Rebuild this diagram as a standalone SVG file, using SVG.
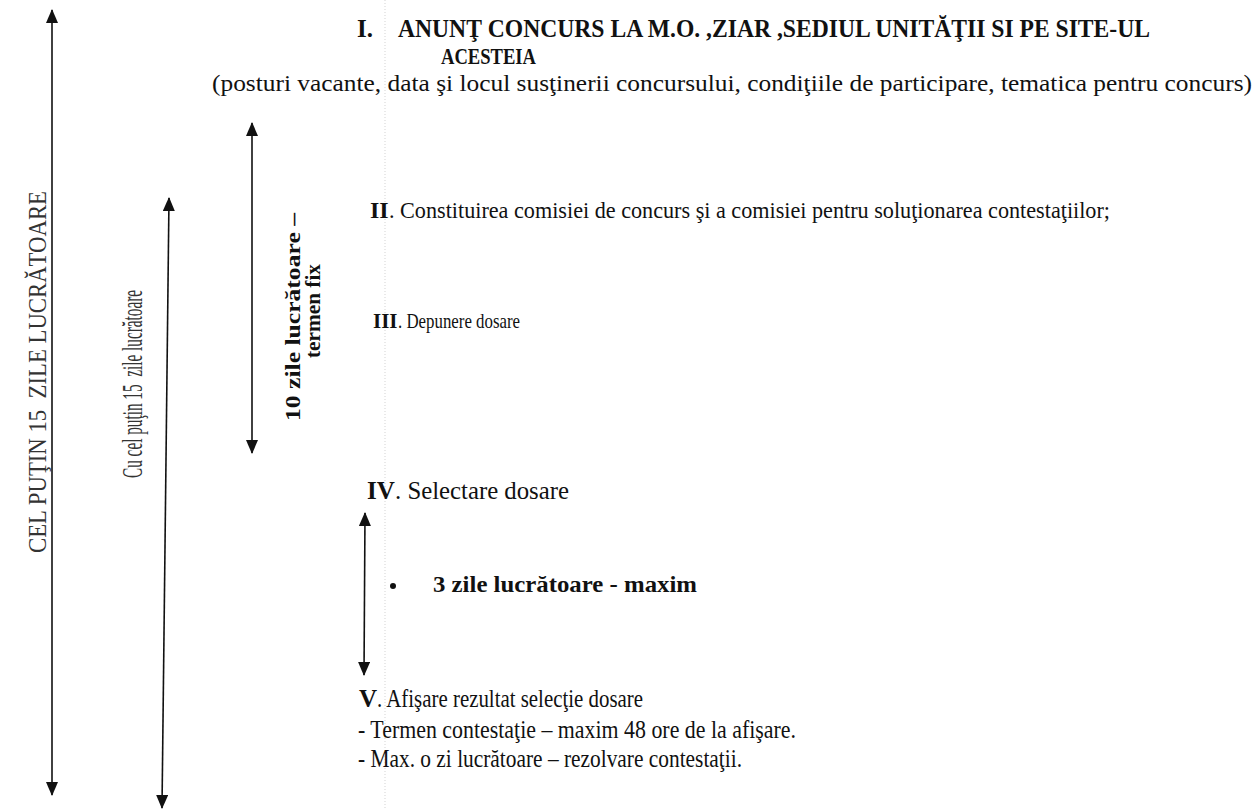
<svg xmlns="http://www.w3.org/2000/svg" width="1256" height="810" viewBox="0 0 1256 810">
<style>
.t{font-family:"Liberation Serif","Times New Roman",serif;fill:#111}
.b{font-weight:bold}
.side{font-family:"Liberation Serif","Times New Roman",serif;fill:#333}
.ln{stroke:#111;stroke-width:1.6;fill:none}
</style>
<defs>
<marker id="ah" markerUnits="userSpaceOnUse" markerWidth="14" markerHeight="12" refX="13" refY="6" orient="auto-start-reverse" viewBox="0 0 14 12">
<path d="M0,0 L14,6 L0,12 Z" fill="#111"/>
</marker>
</defs>
<rect width="1256" height="810" fill="#fff"/>
<line x1="385" y1="0" x2="385" y2="810" stroke="#c8c8c8" stroke-width="0.8" stroke-dasharray="1 2"/>
<g id="connectors">
<line class="ln" x1="52" y1="10" x2="52" y2="795" marker-start="url(#ah)" marker-end="url(#ah)"/>
<line class="ln" x1="169" y1="198" x2="162" y2="808" marker-start="url(#ah)" marker-end="url(#ah)"/>
<line class="ln" x1="252" y1="123" x2="252" y2="453" marker-start="url(#ah)" marker-end="url(#ah)"/>
<line class="ln" x1="365" y1="513" x2="364" y2="675" marker-start="url(#ah)" marker-end="url(#ah)"/>
</g>
<g id="label-cel-putin">
<text class="side" font-size="25" text-anchor="middle" transform="translate(46,372) rotate(-90)" textLength="362" lengthAdjust="spacingAndGlyphs">CEL PUŢIN 15&#160; ZILE LUCRĂTOARE</text>
</g>
<g id="label-cu-cel-putin">
<text class="side" font-size="29" text-anchor="middle" transform="translate(142,384) rotate(-90)" textLength="188" lengthAdjust="spacingAndGlyphs">Cu cel puţin 15&#160; zile lucrătoare</text>
</g>
<g id="label-10-zile">
<text class="t b" font-size="21" text-anchor="middle" transform="translate(300,317) rotate(-90)" textLength="208" lengthAdjust="spacingAndGlyphs">10 zile lucrătoare –</text>
<text class="t b" font-size="21" text-anchor="middle" transform="translate(320,311) rotate(-90)" textLength="94" lengthAdjust="spacingAndGlyphs">termen fix</text>
</g>
<g id="step-1">
<text class="t b" font-size="25" x="357" y="37">I.</text>
<text class="t b" font-size="25" x="398" y="37" textLength="752" lengthAdjust="spacingAndGlyphs">ANUNŢ CONCURS LA M.O. ,ZIAR ,SEDIUL UNITĂŢII SI PE SITE-UL</text>
<text class="t b" font-size="24" x="441" y="64" textLength="95" lengthAdjust="spacingAndGlyphs">ACESTEIA</text>
<text class="t" font-size="24" x="212" y="91" textLength="1040" lengthAdjust="spacingAndGlyphs">(posturi vacante, data şi locul susţinerii concursului, condiţiile de participare, tematica pentru concurs)</text>
</g>
<g id="step-2">
<text class="t b" font-size="24" x="370" y="218">II</text>
<text class="t" font-size="24" x="389" y="218" textLength="721" lengthAdjust="spacingAndGlyphs">. Constituirea comisiei de concurs şi a comisiei pentru soluţionarea contestaţiilor;</text>
</g>
<g id="step-3">
<text class="t b" font-size="21" x="373" y="328">III</text>
<text class="t" font-size="21" x="398" y="328" textLength="122" lengthAdjust="spacingAndGlyphs">. Depunere dosare</text>
</g>
<g id="step-4">
<text class="t b" font-size="25" x="367" y="499">IV</text>
<text class="t" font-size="25" x="395" y="499" textLength="174" lengthAdjust="spacingAndGlyphs">. Selectare dosare</text>
</g>
<g id="note-3-zile">
<circle cx="393" cy="586" r="3" fill="#111"/>
<text class="t b" font-size="24" x="433" y="592" textLength="264" lengthAdjust="spacingAndGlyphs">3 zile lucrătoare - maxim</text>
</g>
<g id="step-5">
<text class="t b" font-size="25" x="359" y="707">V</text>
<text class="t" font-size="25" x="377" y="707" textLength="266" lengthAdjust="spacingAndGlyphs">. Afişare rezultat selecţie dosare</text>
<text class="t" font-size="25" x="358" y="738" textLength="438" lengthAdjust="spacingAndGlyphs">- Termen contestaţie – maxim 48 ore de la afişare.</text>
<text class="t" font-size="25" x="358" y="767" textLength="384" lengthAdjust="spacingAndGlyphs">- Max. o zi lucrătoare – rezolvare contestaţii.</text>
</g>
</svg>
